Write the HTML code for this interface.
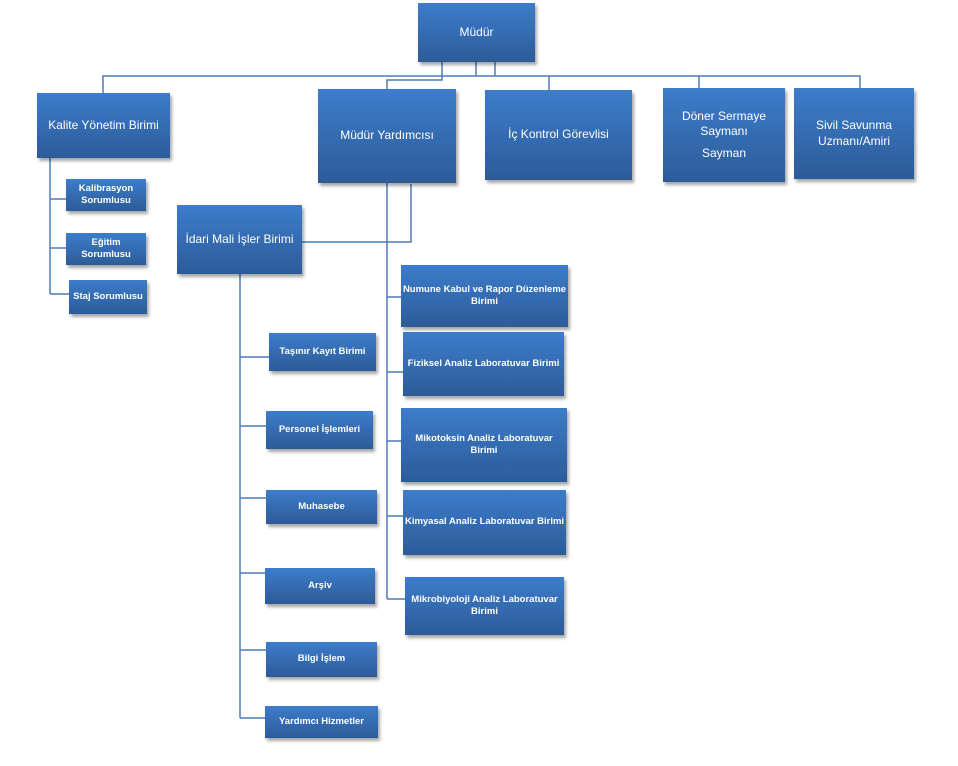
<!DOCTYPE html>
<html><head><meta charset="utf-8"><style>
body{margin:0;width:958px;height:766px;background:#fff;position:relative;overflow:hidden;font-family:"Liberation Sans",sans-serif}
.b{position:absolute;box-sizing:border-box;background:linear-gradient(#3c7dcb,#2d5b98);color:#fff;display:flex;flex-direction:column;align-items:center;justify-content:center;text-align:center;box-shadow:2px 3px 3px rgba(0,0,0,.35);line-height:1.3}
.l{font-size:12px}.s{font-size:9.5px;font-weight:bold}
svg{position:absolute;left:0;top:0}
</style></head><body>
<svg width="958" height="766" fill="none" stroke="#4f7cb5" stroke-width="1.5">
<path d="M442 62V80H387V89"/>
<path d="M476 62V76H103V93M476 76H860V88M495 62V76M549 76V90M699 76V88"/>
<path d="M50 158V294M50 199H66M50 248H66M50 294H69"/>
<path d="M302 242H411V184M387 183V599M387 297H401M387 372H403M387 441H401M387 516H403M387 599H405"/>
<path d="M240 274V718M240 357H269M240 426H266M240 498H266M240 573H265M240 650H266M240 718H265"/>
</svg>
<div class="b l" style="left:418px;top:3px;width:117px;height:59px">Müdür</div>
<div class="b l" style="left:37px;top:93px;width:133px;height:65px">Kalite Yönetim Birimi</div>
<div class="b l" style="left:318px;top:89px;width:138px;height:94px">Müdür Yardımcısı</div>
<div class="b l" style="left:485px;top:90px;width:147px;height:90px">İç Kontrol Görevlisi</div>
<div class="b l" style="left:663px;top:88px;width:122px;height:94px;line-height:1.2"><div>Döner Sermaye<br>Saymanı</div><div style="margin-top:8px">Sayman</div></div>
<div class="b l" style="left:794px;top:88px;width:120px;height:91px">Sivil Savunma<br>Uzmanı/Amiri</div>
<div class="b s" style="left:66px;top:179px;width:80px;height:32px">Kalibrasyon<br>Sorumlusu</div>
<div class="b s" style="left:66px;top:233px;width:80px;height:32px">Eğitim<br>Sorumlusu</div>
<div class="b s" style="left:69px;top:280px;width:78px;height:34px">Staj Sorumlusu</div>
<div class="b l" style="left:177px;top:205px;width:125px;height:69px">İdari Mali İşler Birimi</div>
<div class="b s" style="left:401px;top:265px;width:167px;height:62px">Numune Kabul ve Rapor Düzenleme<br>Birimi</div>
<div class="b s" style="left:403px;top:332px;width:161px;height:64px">Fiziksel Analiz Laboratuvar Birimi</div>
<div class="b s" style="left:401px;top:408px;width:166px;height:74px">Mikotoksin Analiz Laboratuvar<br>Birimi</div>
<div class="b s" style="left:403px;top:490px;width:163px;height:65px">Kimyasal Analiz Laboratuvar Birimi</div>
<div class="b s" style="left:405px;top:577px;width:159px;height:58px">Mikrobiyoloji Analiz Laboratuvar<br>Birimi</div>
<div class="b s" style="left:269px;top:333px;width:107px;height:38px">Taşınır Kayıt Birimi</div>
<div class="b s" style="left:266px;top:411px;width:107px;height:38px">Personel İşlemleri</div>
<div class="b s" style="left:266px;top:490px;width:111px;height:34px">Muhasebe</div>
<div class="b s" style="left:265px;top:568px;width:110px;height:36px">Arşiv</div>
<div class="b s" style="left:266px;top:642px;width:111px;height:35px">Bilgi İşlem</div>
<div class="b s" style="left:265px;top:706px;width:113px;height:32px">Yardımcı Hizmetler</div>
</body></html>
